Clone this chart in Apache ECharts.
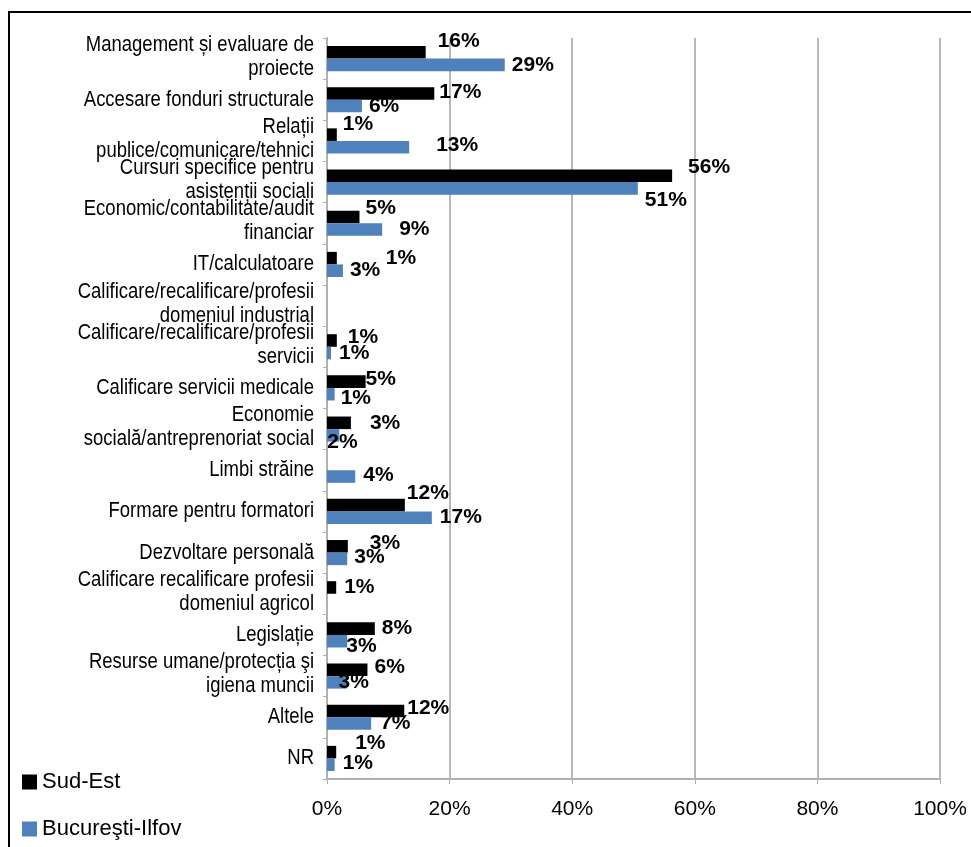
<!DOCTYPE html>
<html>
<head>
<meta charset="utf-8">
<script src="https://cdn.jsdelivr.net/npm/echarts@6/dist/echarts.min.js"></script>
<style>
html,body{margin:0;padding:0;background:#fff;}
#chart{width:971px;height:847px;}
</style>
</head>
<body>
<div id="chart"></div>
<script>
var categories = [
  'Management și evaluare de\nproiecte',
  'Accesare fonduri structurale',
  'Relații\npublice/comunicare/tehnici',
  'Cursuri specifice pentru\nasistenții sociali',
  'Economic/contabilitate/audit\nfinanciar',
  'IT/calculatoare',
  'Calificare/recalificare/profesii\ndomeniul industrial',
  'Calificare/recalificare/profesii\nservicii',
  'Calificare servicii medicale',
  'Economie\nsocială/antreprenoriat social',
  'Limbi străine',
  'Formare pentru formatori',
  'Dezvoltare personală',
  'Calificare recalificare profesii\ndomeniul agricol',
  'Legislație',
  'Resurse umane/protecția şi\nigiena muncii',
  'Altele',
  'NR'
];
var seriesNames = ['Sud-Est', 'Bucureşti-Ilfov'];
var sudEst = [16.1, 17.5, 1.6, 56.3, 5.3, 1.6, null, 1.6, 6.3, 3.9, null, 12.7, 3.4, 1.5, 7.8, 6.6, 12.6, 1.5];
var bucIlfov = [29.0, 5.7, 13.4, 50.7, 9.0, 2.6, null, 0.65, 1.25, 2.0, 4.6, 17.1, 3.3, null, 3.3, 3.2, 7.2, 1.25];
var sudEstLabels = ['16%', '17%', '1%', '56%', '5%', '1%', '', '1%', '5%', '3%', '', '12%', '3%', '1%', '8%', '6%', '12%', '1%'];
var bucIlfovLabels = ['29%', '6%', '13%', '51%', '9%', '3%', '', '1%', '1%', '2%', '4%', '17%', '3%', '', '3%', '3%', '7%', '1%'];
var xTicks = [0, 20, 40, 60, 80, 100];

// label nudges (layout only)
var sudEstNudge = [[7,-11],[0,-1],[1,-10],[11,-9],[1,-9],[44,0],[0,0],[6,-3],[-5,-2],[14,0],[0,0],[-3,-12],[17,-3],[3,0],[2,0],[2,-3],[-2,-3],[14,-9]];
var bucNudge = [[2,0],[2,0],[22,-2],[2,12],[12,0],[2,0],[0,0],[3,0],[1,4],[-17,7],[3,-1],[3,0],[2,-2],[0,0],[-6,5],[-13,0],[4,0],[3,-1]];

function build(vals, labels, nudge) {
  return vals.map(function (v, i) {
    return {
      value: v,
      label: { offset: nudge[i], formatter: labels[i] }
    };
  });
}

var regular = '"Liberation Sans", Arial, sans-serif';

var chart = echarts.init(document.getElementById('chart'), null, { renderer: 'canvas' });
var labelStyle = {
  show: true,
  position: 'right',
  distance: 5,
  color: '#000',
  fontFamily: regular,
  fontWeight: 'bold',
  fontSize: 21
};
chart.setOption({
  animation: false,
  backgroundColor: '#fff',
  legend: {
    orient: 'vertical',
    left: 22,
    top: 769,
    padding: 0,
    itemWidth: 15,
    itemHeight: 15,
    itemGap: 21,
    icon: 'rect',
    textStyle: {
      color: '#000',
      fontFamily: regular,
      fontSize: 22,
      lineHeight: 26
    },
    data: seriesNames
  },
  grid: { left: 327, right: 31, top: 38, bottom: 68, containLabel: false },
  xAxis: {
    type: 'value',
    min: xTicks[0],
    max: xTicks[xTicks.length - 1],
    interval: 20,
    axisLine: { show: true, lineStyle: { color: '#b0b0b0', width: 2 } },
    axisTick: { show: true, length: 5, lineStyle: { color: '#b0b0b0' } },
    splitLine: { show: true, lineStyle: { color: '#a0a0a0', width: 1.5 } },
    axisLabel: {
      formatter: '{value}%',
      color: '#000',
      fontFamily: regular,
      fontSize: 21,
      margin: 20
    }
  },
  yAxis: {
    type: 'category',
    inverse: true,
    data: categories,
    axisLine: { show: true, lineStyle: { color: '#b0b0b0', width: 2 } },
    axisTick: { show: true, length: 4, lineStyle: { color: '#b0b0b0' } },
    axisLabel: { show: false }
  },
  series: [
    {
      name: seriesNames[0],
      type: 'bar',
      data: build(sudEst, sudEstLabels, sudEstNudge),
      itemStyle: { color: '#000000' },
      barGap: '0%',
      barCategoryGap: '39%',
      label: labelStyle
    },
    {
      name: seriesNames[1],
      type: 'bar',
      data: build(bucIlfov, bucIlfovLabels, bucNudge),
      itemStyle: { color: '#4F81BD' },
      barGap: '0%',
      barCategoryGap: '39%',
      label: labelStyle
    }
  ]
});

// Condensed category labels, positioned with the library's category scale
var axisLeft = chart.convertToPixel({ xAxisIndex: 0 }, xTicks[0]);
var graphics = [{
  type: 'rect',
  shape: { x: 9, y: 12, width: 1100, height: 1000 },
  style: { fill: 'none', stroke: '#000', lineWidth: 2 },
  silent: true
}];
categories.forEach(function (name, i) {
  var py = chart.convertToPixel({ yAxisIndex: 0 }, i);
  var multi = name.indexOf('\n') >= 0;
  graphics.push({
    type: 'text',
    x: axisLeft - 13,
    y: py - (multi ? 2 : 0),
    scaleX: 0.86,
    silent: true,
    style: {
      text: name,
      fill: '#000',
      font: '21.5px ' + regular,
      lineHeight: 24,
      align: 'right',
      verticalAlign: 'middle'
    }
  });
});
chart.setOption({ graphic: graphics });
</script>
</body>
</html>
